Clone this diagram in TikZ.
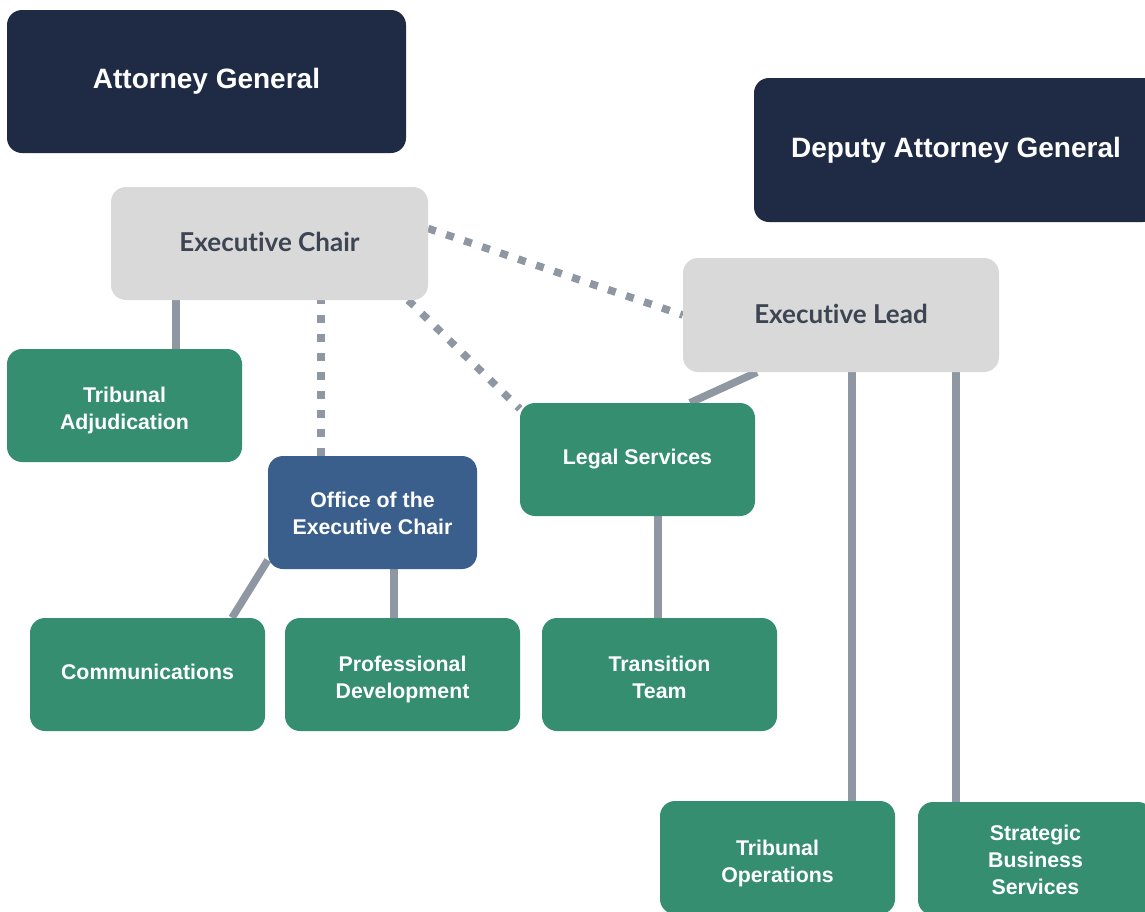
\documentclass[tikz,border=0pt]{standalone}
\usepackage{fontspec}
\setmainfont{Liberation Sans}
\newfontfamily\latofont[Ligatures=NoCommon]{Lato}
\usetikzlibrary{backgrounds}
\definecolor{navy}{HTML}{1F2B44}
\definecolor{boxgray}{HTML}{D9D9D9}
\definecolor{unitgreen}{HTML}{358E6F}
\definecolor{officeblue}{HTML}{3B5F8C}
\definecolor{linkgray}{HTML}{8F97A3}
\definecolor{leadtext}{HTML}{3D4553}
% centred label block whose ink is moved up (+) or down (-) by #1,
% keeping the box extents the node centres on
\newcommand\labelat[2]{\raisebox{#1}[\height][\depth]{\begin{tabular}{@{}c@{}}#2\end{tabular}}}
\begin{document}
\begin{tikzpicture}[x=1pt,y=-1pt,
  card/.style={rectangle,rounded corners=15pt,inner sep=0pt,align=center},
  topbox/.style={card,fill=navy,text=white,font=\fontsize{28}{34}\selectfont\bfseries},
  leadbox/.style={card,fill=boxgray,text=leadtext,font=\latofont\fontsize{26}{31}\selectfont\bfseries,
    minimum width=316pt,minimum height=113pt},
  unitbox/.style={card,fill=unitgreen,text=white,font=\fontsize{21.3}{27}\selectfont\bfseries,
    minimum width=235pt,minimum height=113pt},
  officebox/.style={unitbox,fill=officeblue,minimum width=209pt},
  link/.style={draw=linkgray,line width=7.5pt},
  dotlink/.style={link,dash pattern=on 8pt off 11pt}]
\useasboundingbox (0,0) rectangle (1145,911);
\clip (0,0) rectangle (1145,911);

% top level
\node[topbox,minimum width=399pt,minimum height=143pt] (ag) at (206.5,81.5) {Attorney General};
\node[topbox,minimum width=404pt,minimum height=144pt] (dag) at (956,150) {Deputy Attorney General};

% executive level
\node[leadbox,minimum width=317pt] (ec) at (269.5,243.5) {\raisebox{2pt}[\height][\depth]{Executive Chair}};
\node[leadbox,minimum height=114pt] (el) at (841,315) {\raisebox{1pt}[\height][\depth]{Executive Lead}};

% units
\node[unitbox] (ta) at (124.5,405.5) {\labelat{-5pt}{Tribunal\\Adjudication}};
\node[officebox] (oec) at (372.5,512.5) {\labelat{-3pt}{Office of the\\Executive Chair}};
\node[unitbox] (ls) at (637.5,459.5) {Legal Services};
\node[unitbox] (com) at (147.5,674.5) {\labelat{0pt}{Communications}};
\node[unitbox] (pd) at (402.5,674.5) {\labelat{-5pt}{Professional\\Development}};
\node[unitbox] (tt) at (659.5,674.5) {\labelat{-5pt}{Transition\\Team}};
\node[unitbox] (to) at (777.5,857.5) {\labelat{-6pt}{Tribunal\\Operations}};
\node[unitbox] (sbs) at (1035.5,858.5) {\labelat{-4pt}{Strategic\\Business\\Services}};

% reporting lines, behind the boxes
\begin{pgfonlayer}{background}
  \fill[white] (0,0) rectangle (1145,911);
  \draw[link] ([xshift=51.5]ta.north) -- ([xshift=51.5]ta.north |- ec.south);
  \draw[dotlink] ([xshift=-51.5]oec.north) -- ([xshift=-51.5]oec.north |- ec.south);
  \draw[dotlink] ([xshift=-20]ec.south east) -- ([yshift=-6]ls.north west);
  \draw[dotlink] ([yshift=15]ec.east) -- (el.west);
  \draw[link] ([xshift=-84]el.south) -- ([xshift=52.5]ls.north);
  \draw[link] ([xshift=11]el.south) -- ([xshift=11]el.south |- to.north);
  \draw[link] ([xshift=115]el.south) -- ([xshift=115]el.south |- sbs.north);
  \draw[link] ([yshift=9]oec.south west) -- ([xshift=84.5]com.north);
  \draw[link] ([xshift=21.5]oec.south) -- ([xshift=21.5]oec.south |- pd.north);
  \draw[link] ([xshift=20.5]ls.south) -- ([xshift=20.5]ls.south |- tt.north);
\end{pgfonlayer}
\end{tikzpicture}
\end{document}
